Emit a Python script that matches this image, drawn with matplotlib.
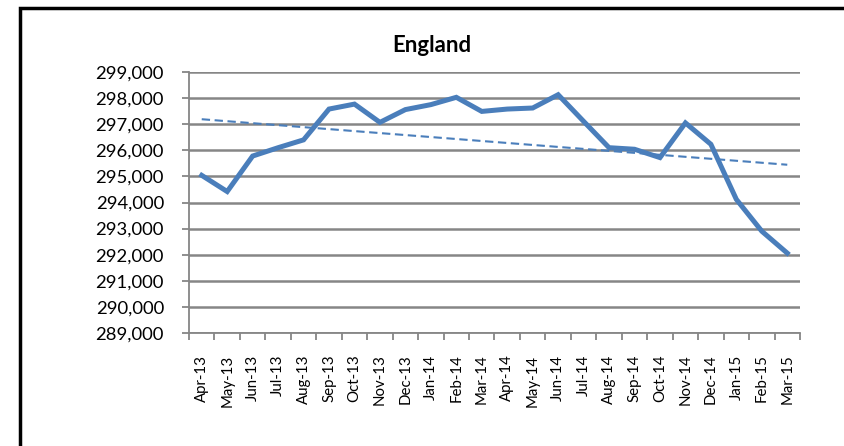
import numpy as np
import matplotlib
matplotlib.use("Agg")
import matplotlib.pyplot as plt
from matplotlib.patches import Rectangle

# Data
months = ["Apr-13", "May-13", "Jun-13", "Jul-13", "Aug-13", "Sep-13", "Oct-13",
          "Nov-13", "Dec-13", "Jan-14", "Feb-14", "Mar-14", "Apr-14", "May-14",
          "Jun-14", "Jul-14", "Aug-14", "Sep-14", "Oct-14", "Nov-14", "Dec-14",
          "Jan-15", "Feb-15", "Mar-15"]
values = [295040, 294420, 295780, 296100, 296400, 297580, 297770,
          297070, 297560, 297750, 298030, 297490, 297580, 297620,
          298130, 297110, 296100, 296040, 295720, 297050, 296230,
          294120, 292900, 292060]
yticks = list(range(289000, 300000, 1000))

plt.rcParams['font.family'] = ['Lato', 'DejaVu Sans']

BLUE = "#4A7EBB"
GRID = "#868686"

fig = plt.figure(figsize=(8.45, 4.46), dpi=100)
ax = fig.add_axes([189 / 845, 1 - 333 / 446, 611 / 845, 261 / 446])

x = np.arange(len(months))
ax.plot(x, values, color=BLUE, lw=3.6, solid_joinstyle="miter", zorder=3)

# linear trendline
slope, icpt = np.polyfit(x, values, 1)
ax.plot(x, slope * x + icpt, color=BLUE, lw=1.5, ls=(0, (4, 2.2)), zorder=2)

ax.set_xlim(-0.5, len(months) - 0.5)
ax.set_ylim(yticks[0], yticks[-1])
ax.set_yticks(yticks)
ax.set_yticklabels([f"{v:,}" for v in yticks], fontsize=13.3)
ax.yaxis.grid(True, color=GRID, lw=1.8)
ax.set_axisbelow(True)

# category ticks at the boundaries, labels in the middle
ax.set_xticks(np.arange(-0.5, len(months), 1.0))
ax.set_xticklabels([])
ax.set_xticks(x, minor=True)
ax.set_xticklabels(months, minor=True, rotation=90, fontsize=10.8)
ax.tick_params(axis="x", which="minor", length=0, pad=15.5)
ax.tick_params(axis="x", which="major", length=5, width=1.3, color=GRID)
ax.tick_params(axis="y", length=5, width=1.3, color=GRID, pad=13)

for side in ["top", "right"]:
    ax.spines[side].set_visible(False)
ax.spines["left"].set_color(GRID)
ax.spines["left"].set_linewidth(1.3)
ax.spines["bottom"].set_color(GRID)
ax.spines["bottom"].set_linewidth(1.3)

fig.text(432 / 845, 1 - 45 / 446, "England", fontsize=16, fontweight="bold",
         ha="center", va="center")

# outer chart frame (runs off the right and bottom edges)
fig.add_artist(Rectangle((20 / 845, -0.1), 1.2, 1 - 8 / 446 + 0.1,
                         transform=fig.transFigure, fill=False,
                         edgecolor="black", lw=2.5))

fig.savefig("out.png", dpi=100)
